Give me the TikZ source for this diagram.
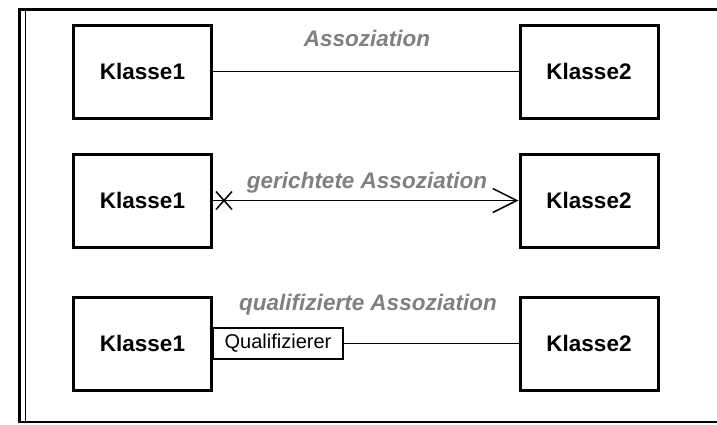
\documentclass[tikz,border=0pt]{standalone}
\usepackage{fontspec}
\setmainfont{Liberation Sans}
\usetikzlibrary{positioning, arrows.meta}
\definecolor{labelgray}{RGB}{128,128,128}

\begin{document}
\begin{tikzpicture}
    [
        x=1pt, y=-1pt,
        node distance=129pt and 446.5pt, on grid,
        class_node/.style={rectangle, draw=black, line width=3pt, minimum width=138pt, minimum height=93pt, inner sep=0pt, font=\fontsize{22.5}{27}\selectfont\bfseries},
        qual_node/.style={rectangle, draw=black, line width=1.2pt, minimum width=130pt, minimum height=31pt, inner sep=0pt, outer sep=0pt, font=\fontsize{20}{24}\selectfont},
        assoc_label/.style={text=labelgray, font=\fontsize{22.5}{27}\selectfont\bfseries\itshape},
        assoc_line/.style={draw=black, line width=1.5pt},
    ]
        \useasboundingbox (0,0) rectangle (717,424);
        % frame
        \draw[line width=2.5pt] (717,9.5) -- (19.5,9.5) -- (19.5,422) -- (717,422);
        \draw[line width=1.2pt] (25.5,9.5) -- (25.5,422);
        % classes
        \node[class_node] (k1a) at (142.5,71.5) {Klasse1};
        \node[class_node] (k2a) [right = of k1a] {Klasse2};
        \node[class_node] (k1b) [below = of k1a] {Klasse1};
        \node[class_node] (k2b) [right = of k1b] {Klasse2};
        \node[class_node] (k1c) [below = 143pt of k1b] {Klasse1};
        \node[class_node] (k2c) [right = of k1c] {Klasse2};
        \node[qual_node, anchor=west] (qual) at (k1c.east) {Qualifizierer};
        % labels
        \node[assoc_label] (lab1) at (367,38) {Assoziation};
        \node[assoc_label] (lab2) at (367,183) {gerichtete Assoziation};
        \node[assoc_label] (lab3) at (368,305) {qualifizierte Assoziation};
        % associations
        \draw[assoc_line] (k1a) -- (k2a);
        \draw[assoc_line, -{Straight Barb[length=24pt, width=24pt]}] (k1b) -- (k2b);
        \draw[assoc_line] (qual) -- (k2c);
        \coordinate (nonav) at ([xshift=11pt]k1b.east);
        \draw[assoc_line] (nonav) ++(-8,-9) -- ++(16,18) (nonav) ++(-8,9) -- ++(16,-18);
    \end{tikzpicture}
\end{document}
